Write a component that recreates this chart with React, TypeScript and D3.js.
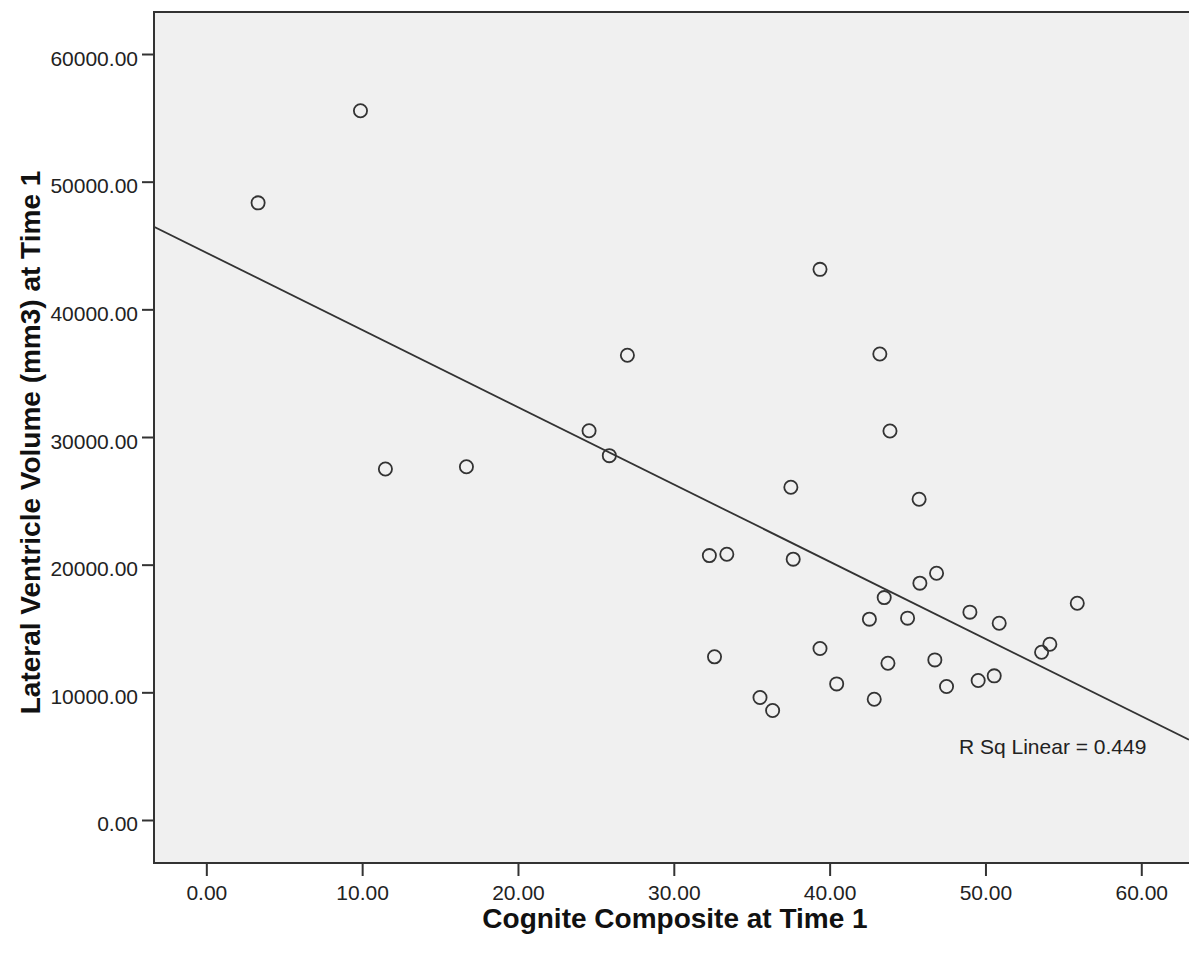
import React from 'react';
import * as d3 from 'd3';

// Cognite Composite at Time 1 (x) and Lateral Ventricle Volume (mm3) at Time 1 (y)
const cognitionScores = [
  3.29, 9.86, 11.46, 16.66, 24.53, 25.83, 26.99, 32.25, 33.37, 32.58, 35.5, 36.31,
  37.48, 37.63, 39.35, 39.35, 40.42, 42.52, 42.83, 43.19, 43.47, 43.71, 43.84, 44.97,
  45.71, 45.76, 46.83, 46.72, 47.47, 48.97, 49.5, 50.53, 50.85, 53.57, 54.1, 55.86,
];
const ventricleVolumes = [
  48380, 55590, 27530, 27710, 30530, 28580, 36440, 20750, 20860, 12820, 9630, 8610,
  26100, 20470, 43170, 13470, 10700, 15770, 9500, 36540, 17460, 12320, 30510, 15850,
  25160, 18590, 19370, 12580, 10490, 16320, 10960, 11330, 15450, 13180, 13810, 17020,
];

const xTicks = [0, 10, 20, 30, 40, 50, 60];
const yTicks = [0, 10000, 20000, 30000, 40000, 50000, 60000];
const xDomain = [-3.39, 63.03];
const yDomain = [-3330, 63330];

const xTitle = 'Cognite Composite at Time 1';
const yTitle = 'Lateral Ventricle Volume (mm3) at Time 1';
const rSqLabel = 'R Sq Linear = 0.449';

export default function App() {
  const W = 1189;
  const H = 957;
  const left = 154;
  const right = 1189;
  const top = 12;
  const bottom = 863;
  const ink = '#333333';
  const font = '"Liberation Sans", Arial, sans-serif';

  const x = d3.scaleLinear().domain(xDomain).range([left, right]);
  const y = d3.scaleLinear().domain(yDomain).range([bottom, top]);

  const mx = d3.mean(cognitionScores) as number;
  const my = d3.mean(ventricleVolumes) as number;
  let sxy = 0;
  let sxx = 0;
  cognitionScores.forEach((v, i) => {
    sxy += (v - mx) * (ventricleVolumes[i] - my);
    sxx += (v - mx) * (v - mx);
  });
  const slope = sxy / sxx;
  const intercept = my - slope * mx;
  const fitPath = d3.line()(
    xDomain.map((v) => [x(v), y(intercept + slope * v)] as [number, number])
  ) as string;

  return (
    <svg
      width={W}
      height={H}
      style={{ position: 'absolute', left: 0, top: 0, background: '#ffffff' }}
      fontFamily={font}
    >
      <defs>
        <clipPath id="plotClip">
          <rect x={left} y={top} width={right - left} height={bottom - top} />
        </clipPath>
      </defs>
      <rect x={left} y={top} width={right - left} height={bottom - top} fill="#f0f0f0" />

      <g clipPath="url(#plotClip)">
        <path d={fitPath} stroke={ink} strokeWidth={1.8} fill="none" />
        {cognitionScores.map((v, i) => (
          <circle
            key={i}
            cx={x(v)}
            cy={y(ventricleVolumes[i])}
            r={6.6}
            fill="none"
            stroke={ink}
            strokeWidth={1.8}
          />
        ))}
      </g>

      {/* frame */}
      <line x1={left} x2={right} y1={top} y2={top} stroke={ink} strokeWidth={2} />
      <line x1={left} x2={left} y1={top - 1} y2={bottom + 1} stroke={ink} strokeWidth={2} />
      <line x1={left - 1} x2={right} y1={bottom} y2={bottom} stroke={ink} strokeWidth={2} />

      {/* y axis */}
      {yTicks.map((t) => (
        <g key={'y' + t}>
          <line x1={left - 12} x2={left} y1={y(t)} y2={y(t)} stroke={ink} strokeWidth={2} />
          <text x={left - 16} y={y(t) + 11} textAnchor="end" fontSize={21} fill="#222">
            {d3.format('.2f')(t)}
          </text>
        </g>
      ))}

      {/* x axis */}
      {xTicks.map((t) => (
        <g key={'x' + t}>
          <line x1={x(t)} x2={x(t)} y1={bottom} y2={bottom + 13} stroke={ink} strokeWidth={2} />
          <text x={x(t)} y={899.5} textAnchor="middle" fontSize={21} fill="#222">
            {d3.format('.2f')(t)}
          </text>
        </g>
      ))}

      <text x={959} y={753.5} fontSize={21} fill="#222">
        {rSqLabel}
      </text>

      <text x={675} y={928} textAnchor="middle" fontSize={28} fontWeight="bold" fill="#111">
        {xTitle}
      </text>
      <text
        transform={`translate(40, ${(163 + 722) / 2}) rotate(-90)`}
        textAnchor="middle"
        fontSize={28}
        fontWeight="bold"
        fill="#111"
      >
        {yTitle}
      </text>
    </svg>
  );
}
